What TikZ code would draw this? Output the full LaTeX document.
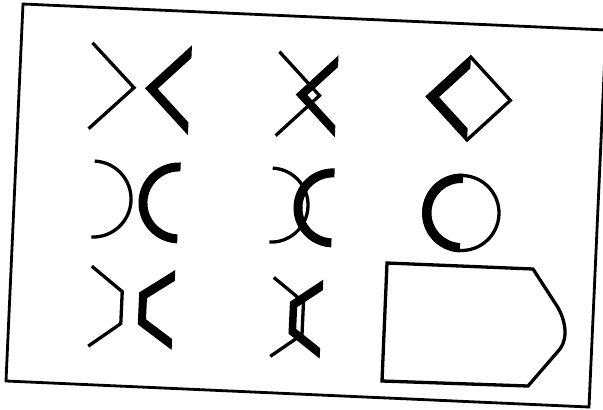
\documentclass[tikz,border=0pt]{standalone}
\begin{document}
\begin{tikzpicture}[x=1pt,y=-1pt,
  thinline/.style={line width=3.3pt, line join=miter},
  frameline/.style={line width=2.8pt, line join=miter},
  heavy/.style={fill=black, draw=none},
  sym/.style={shift={#1}, rotate=-2.6}]
\useasboundingbox (0,0) rectangle (603,410);
\fill[white] (0,0) rectangle (603,410);
\clip (0,0) rectangle (603,410);
% frame
\draw[frameline] (23,4) -- (606,30) -- (589,407) -- (6,381) -- cycle;
% 1: > <
\begin{scope}[sym={(140.5,88)}]
  \draw[thinline] (-50,-43) -- (-6.5,0) -- (-50,43);
  \fill[heavy] (4.5,0) -- (49.5,-45) -- (49.5,-32.3) -- (17.2,0) -- (49.5,32.3) -- (49.5,45) -- cycle;
\end{scope}
% 2: crossed chevrons
\begin{scope}[sym={(307,95)}]
  \draw[thinline] (-29.5,-42) -- (12.5,0) -- (-29.5,42);
  \fill[heavy] (-11.3,0) -- (29.7,-41) -- (29.7,-29.3) -- (0.4,0) -- (29.7,29.3) -- (29.7,41) -- cycle;
\end{scope}
% 3: diamond
\begin{scope}[sym={(469,98.5)}]
  \draw[thinline] (0,-41.4) -- (41.4,0) -- (0,41.4) -- (-41.4,0) -- cycle;
  \fill[heavy] (0,-43.5) -- (-43.5,0) -- (0,43.5) -- (0,30) -- (-30,0) -- (0,-30) -- cycle;
\end{scope}
% 4: ) (
\begin{scope}[sym={(136,201)}]
  \draw[thinline] (-43,-38) arc[start angle=-90, end angle=90, radius=38];
  \fill[heavy] (43,-40.5) arc[start angle=-90, end angle=-270, radius=40.5]
     -- (43,31.5) arc[start angle=90, end angle=270, radius=31.5] -- cycle;
\end{scope}
% 5: overlapping arcs
\begin{scope}[sym={(302,206.5)}]
  \draw[thinline] (-31,-37) arc[start angle=-90, end angle=90, radius=37];
  \fill[heavy] (31,-39.5) arc[start angle=-90, end angle=-270, radius=39.5]
     -- (31,30.5) arc[start angle=90, end angle=270, radius=30.5] -- cycle;
\end{scope}
% 6: circle
\begin{scope}[sym={(461.5,213)}]
  \draw[thinline] (0,0) circle[radius=37.5];
  \fill[heavy] (0,-39.5) arc[start angle=-90, end angle=-270, radius=39.5]
     -- (0,30) arc[start angle=90, end angle=270, radius=30] -- cycle;
\end{scope}
% 7: bent brackets
\begin{scope}[sym={(130,308)}]
  \draw[thinline] (-40,-40) -- (-8.5,-16) -- (-8.5,16) -- (-40,40);
  \fill[heavy] (43.5,-40) -- (8.5,-16) -- (8.5,16) -- (43.5,40) -- (43.5,29.1)
     -- (16.5,10.57) -- (16.5,-10.57) -- (43.5,-29.1) -- cycle;
\end{scope}
% 8: crossed bent brackets
\begin{scope}[sym={(296,318)}]
  \draw[thinline] (-24,-39.5) -- (6.75,-16.3) -- (6.75,16.3) -- (-24,39.5);
  \fill[heavy] (25.5,-39.5) -- (-6.8,-16) -- (-6.8,16) -- (25.5,39.5) -- (25.5,29)
     -- (0.7,10.93) -- (0.7,-10.93) -- (25.5,-29) -- cycle;
\end{scope}
% 9: pointed box
\draw[thinline] (387,263) -- (533,269) -- (555,303)
  .. controls (565,317) and (569,337) .. (560,349) -- (528,386) -- (382,381) -- cycle;
\end{tikzpicture}
\end{document}
